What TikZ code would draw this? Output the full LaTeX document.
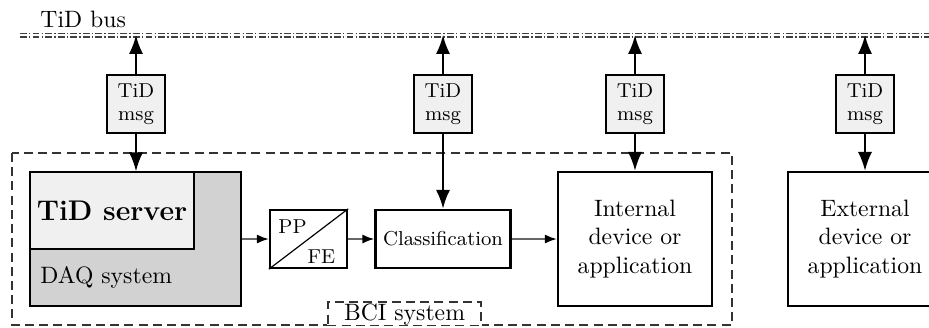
\documentclass[tikz,border=0pt]{standalone}
\usetikzlibrary{arrows.meta}
\begin{document}
\begin{tikzpicture}[x=0.422pt, y=-0.422pt,
  blk/.style={draw, line width=1pt, align=center, inner sep=0pt},
  msg/.style={blk, fill=gray!12, minimum width=24.5pt, minimum height=24.5pt, font=\fontsize{8.5}{9.7}\selectfont},
  lbl/.style={inner sep=0pt, font=\fontsize{8.5}{9.7}\selectfont},
  big/.style={-{Latex[length=8pt,width=6pt]}, line width=1pt},
  sml/.style={-{Latex[length=5pt,width=3.8pt,color=black]}, line width=0.7pt, black!60},
  bus/.style={black!75, line width=0.45pt, dash pattern=on 2.9pt off 0.9pt on 0.6pt off 0.9pt},
  frame/.style={black!80, line width=0.5pt, dash pattern=on 3.8pt off 2.2pt}]
\useasboundingbox (0,0) rectangle (929,327);
% bus
\draw[bus] (20,33.5) -- (929,33.5);
\draw[bus] (20,37) -- (929,37);
\node[anchor=base west, inner sep=0pt] (buslbl) at (40,27) {TiD bus};
\coordinate (busA) at (136,35);
\coordinate (busB) at (443,35);
\coordinate (busC) at (635,35);
\coordinate (busD) at (865,35);
% BCI system
\draw[frame] (12,153) rectangle (732,325);
\node[frame, draw, fill=white, minimum width=64.5pt, minimum height=9.7pt, inner sep=0pt] (bcilbl) at (404.5,313.5) {};
\draw[frame, white, line width=1pt, dash pattern=] (bcilbl.south west) -- (bcilbl.south east);
\draw[frame] (bcilbl.south west) -- (bcilbl.south east);
\node[inner sep=0pt, anchor=base] (bcitxt) at (404.5,320) {BCI system};
% DAQ
\node[draw, line width=0.5pt, fill=gray!35, minimum width=89pt, minimum height=56.5pt, inner sep=0pt] (daq) at (135.5,239) {};
\node[draw, line width=0.5pt, fill=gray!12, minimum width=69.2pt, minimum height=32.5pt, inner sep=0pt, font=\large\bfseries] (srv) at (112,210.5) {TiD server};
\node[anchor=west, inner sep=0pt] (daqlbl) at (40,277) {DAQ system};
% processing chain
\node[blk, minimum width=32.5pt, minimum height=24.5pt] (ppfe) at (308.5,239) {};
\draw[line width=0.5pt] (ppfe.south west) -- (ppfe.north east);
\node[lbl] (pp) at (292.5,227) {PP};
\node[lbl] (fe) at (321.5,257) {FE};
\node[blk, minimum width=57pt, minimum height=24.5pt, font=\fontsize{8.5}{9.7}\selectfont] (cls) at (443,239) {Classification};
\node[blk, minimum width=65pt, minimum height=56.5pt] (intl) at (635,239) {Internal\\device or\\application};
\node[blk, minimum width=65pt, minimum height=56.5pt] (extl) at (865,239) {External\\device or\\application};
% messages
\node[msg] (msgA) at (136,104) {TiD\\msg};
\node[msg] (msgB) at (443,104) {TiD\\msg};
\node[msg] (msgC) at (635,104) {TiD\\msg};
\node[msg] (msgD) at (865,104) {TiD\\msg};
\draw[big] (msgA.north) -- (busA);
\draw[big] (msgB.north) -- (busB);
\draw[big] (msgC.north) -- (busC);
\draw[big] (msgD.north) -- (busD);
\draw[big] (msgA.south) -- (msgA.south |- srv.north);
\draw[big] (msgB.south) -- (cls.north);
\draw[big] (msgC.south) -- (intl.north);
\draw[big] (msgD.south) -- (extl.north);
\draw[sml] (daq.east) -- (ppfe.west);
\draw[sml] (ppfe.east) -- (cls.west);
\draw[sml] (cls.east) -- (intl.west);
\end{tikzpicture}
\end{document}
